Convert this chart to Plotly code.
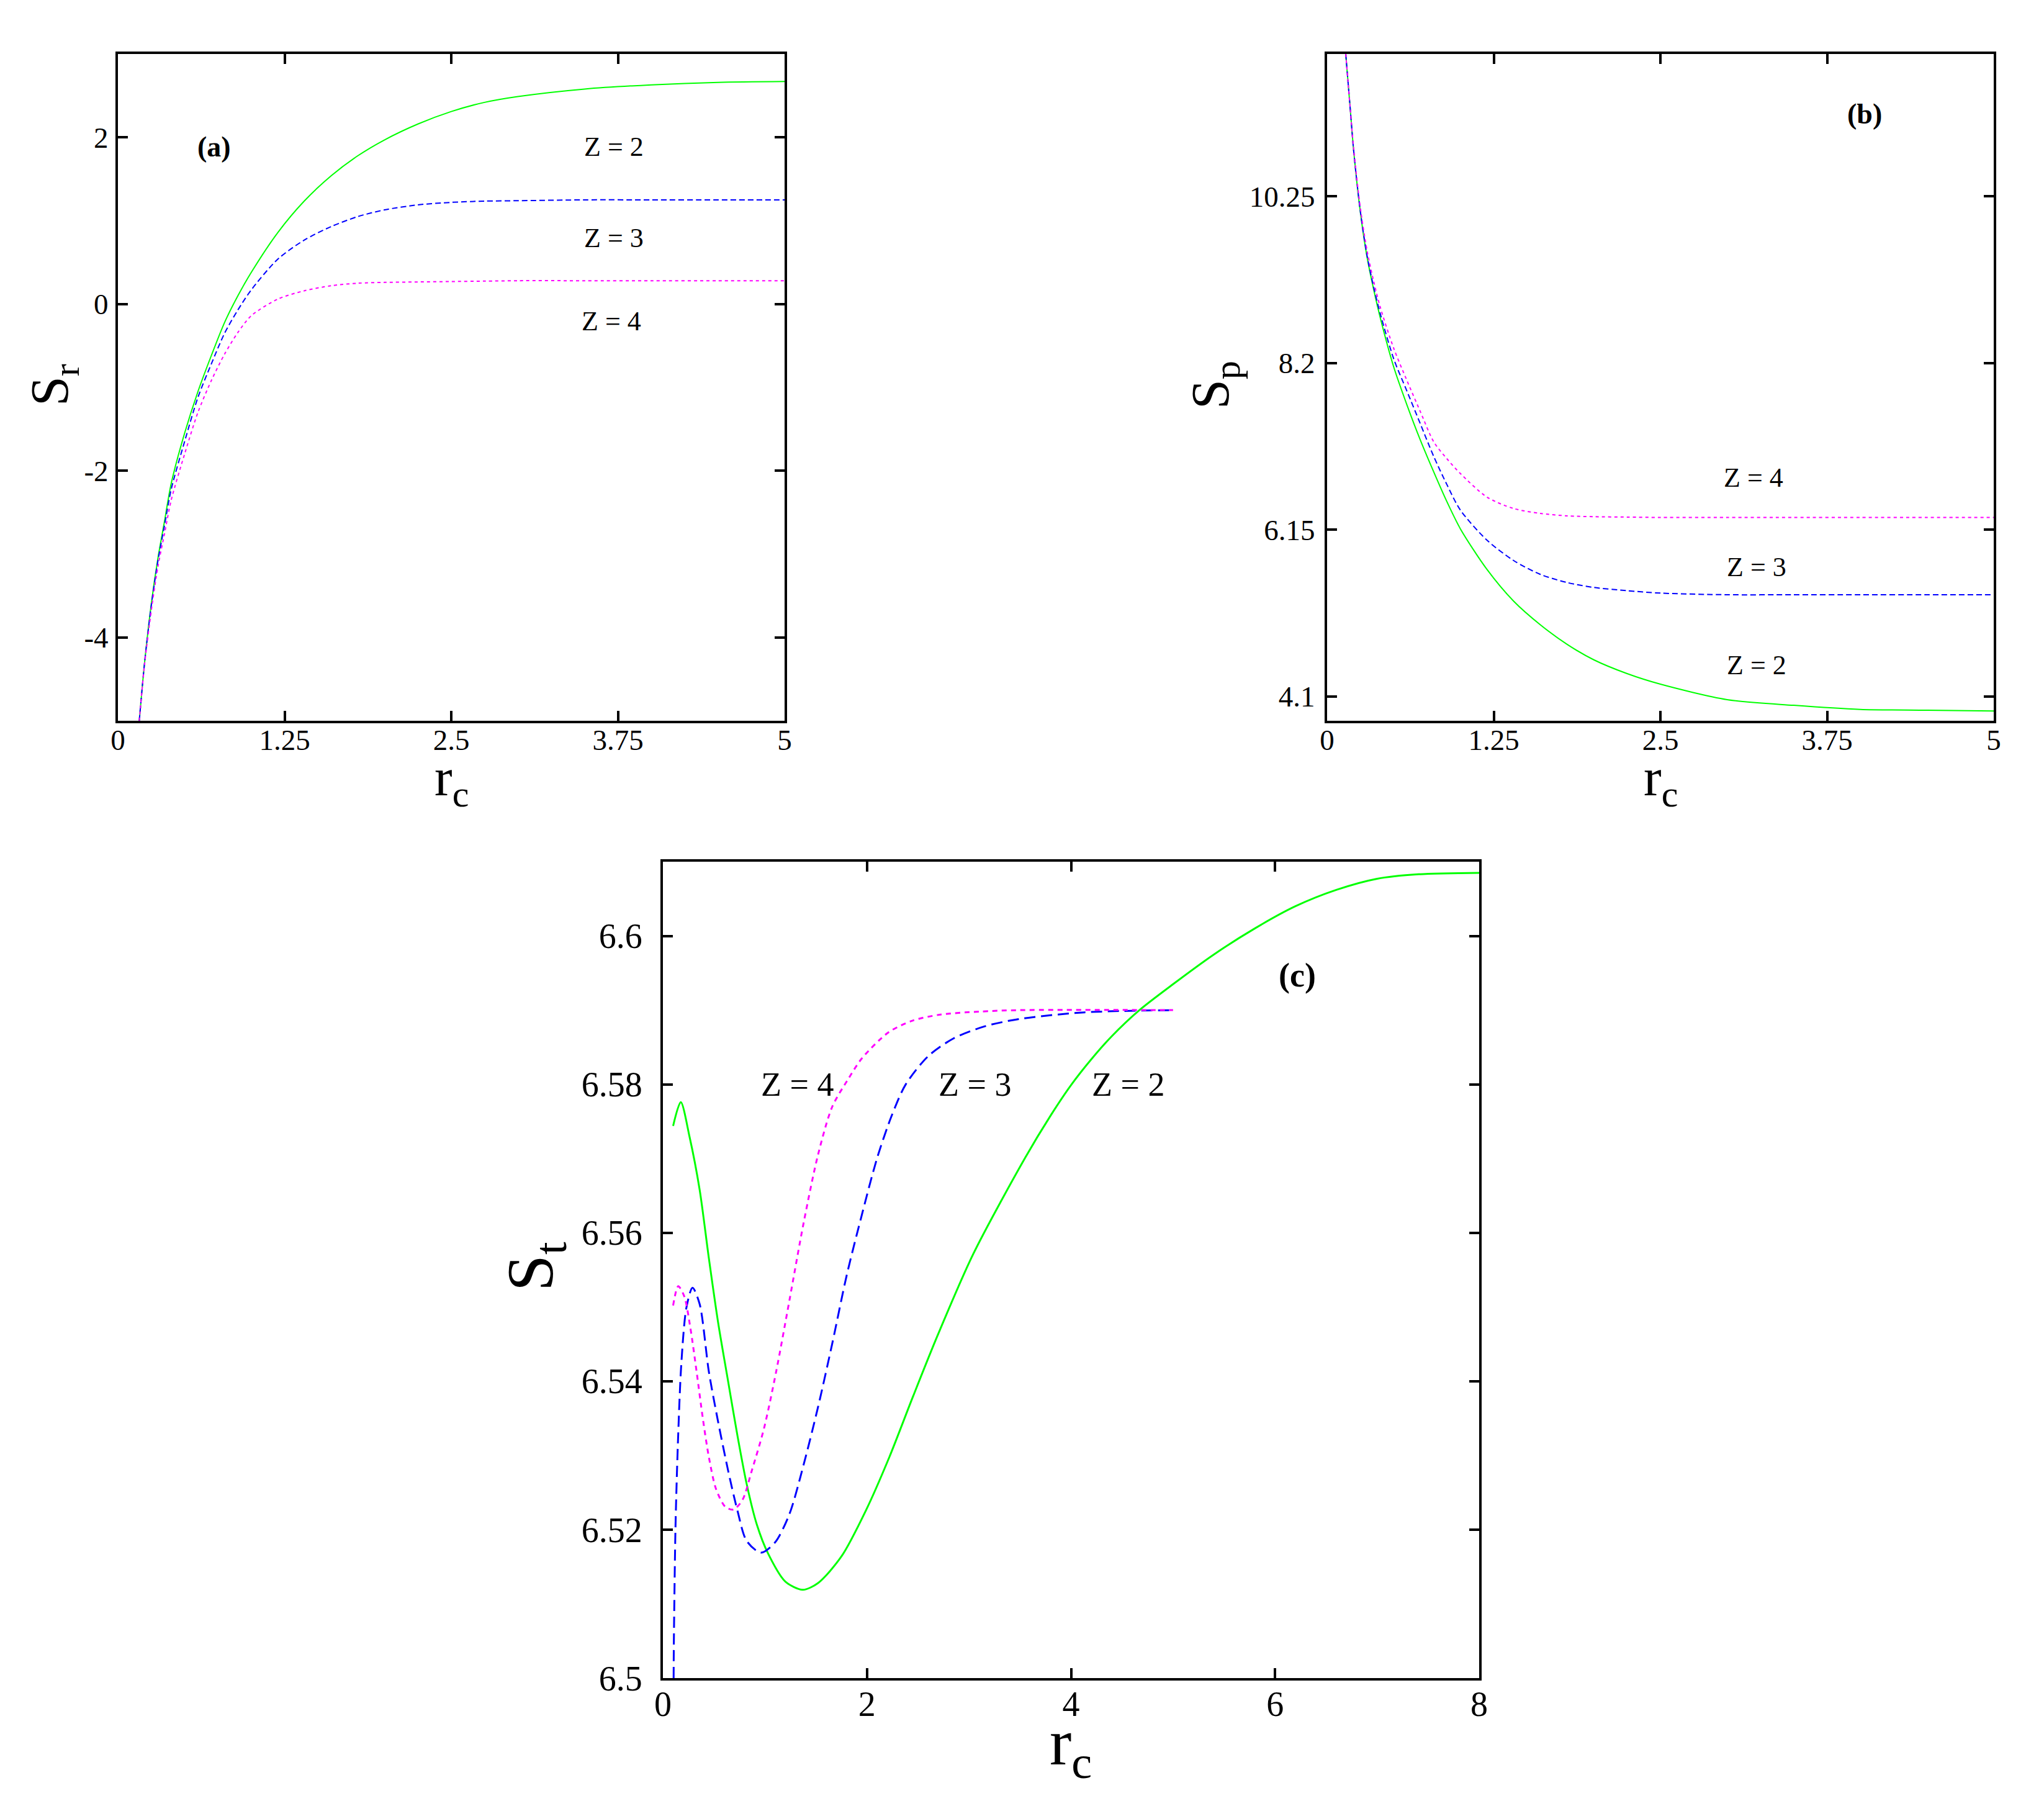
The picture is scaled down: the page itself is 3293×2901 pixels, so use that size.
import plotly.graph_objects as go

# ---------------- data ----------------
# Panel (a): S_r vs r_c
xa = [0.16, 0.2, 0.25, 0.3, 0.35, 0.4, 0.5, 0.6, 0.7, 0.8, 0.9, 1.0, 1.2, 1.4, 1.6, 1.8, 2.0, 2.25, 2.5, 2.75, 3.0, 3.5, 4.0, 4.5, 5.0]
sr_z2 = [-5.0, -4.3, -3.6, -3.05, -2.6, -2.15, -1.55, -1.05, -0.62, -0.22, 0.1, 0.38, 0.86, 1.24, 1.54, 1.78, 1.97, 2.16, 2.31, 2.42, 2.49, 2.58, 2.63, 2.66, 2.67]
sr_z3 = [-5.0, -4.3, -3.62, -3.08, -2.65, -2.22, -1.65, -1.12, -0.72, -0.35, -0.07, 0.17, 0.54, 0.77, 0.93, 1.05, 1.13, 1.19, 1.22, 1.235, 1.24, 1.25, 1.25, 1.25, 1.25]
sr_z4 = [-5.0, -4.32, -3.68, -3.15, -2.75, -2.35, -1.8, -1.3, -0.92, -0.6, -0.34, -0.14, 0.06, 0.16, 0.22, 0.25, 0.26, 0.265, 0.27, 0.275, 0.28, 0.28, 0.28, 0.28, 0.28]

# Panel (b): S_p vs r_c
xb = [0.14, 0.17, 0.2, 0.25, 0.3, 0.35, 0.4, 0.5, 0.6, 0.7, 0.8, 0.9, 1.0, 1.2, 1.4, 1.6, 1.8, 2.0, 2.25, 2.5, 3.0, 3.5, 4.0, 4.5, 5.0]
sp_z2 = [12.0, 11.4, 10.8, 10.05, 9.5, 9.1, 8.75, 8.15, 7.68, 7.25, 6.86, 6.49, 6.16, 5.66, 5.27, 4.98, 4.74, 4.55, 4.38, 4.25, 4.06, 3.99, 3.94, 3.93, 3.92]
sp_z3 = [12.0, 11.4, 10.8, 10.06, 9.52, 9.13, 8.8, 8.25, 7.85, 7.45, 7.05, 6.7, 6.39, 6.02, 5.77, 5.6, 5.5, 5.44, 5.40, 5.37, 5.35, 5.35, 5.35, 5.35, 5.35]
sp_z4 = [12.0, 11.4, 10.82, 10.1, 9.58, 9.2, 8.88, 8.38, 7.98, 7.6, 7.23, 7.02, 6.84, 6.55, 6.41, 6.35, 6.32, 6.31, 6.305, 6.30, 6.30, 6.30, 6.30, 6.30, 6.30]

# Panel (c): S_t vs r_c
xc_z2 = [0.10, 0.175, 0.26, 0.36, 0.45, 0.54, 0.64, 0.73, 0.82, 0.92, 1.03, 1.20, 1.37, 1.52, 1.75, 1.99, 2.22, 2.45, 2.69, 3.04, 3.55, 3.8, 4.0, 4.2, 4.4, 4.67, 5.0, 5.4, 5.8, 6.2, 6.6, 7.0, 7.4, 8.0]
st_z2 = [6.5744, 6.5776, 6.5730, 6.5658, 6.5566, 6.5480, 6.5399, 6.5327, 6.5262, 6.5207, 6.5168, 6.5130, 6.5119, 6.5128, 6.5164, 6.5226, 6.5298, 6.5379, 6.5461, 6.5571, 6.5701, 6.5758, 6.5799, 6.5834, 6.5865, 6.5900, 6.5935, 6.5975, 6.6010, 6.6040, 6.6062, 6.6077, 6.6083, 6.6085]
xc_z3 = [0.105, 0.107, 0.123, 0.147, 0.18, 0.23, 0.29, 0.36, 0.45, 0.54, 0.64, 0.73, 0.82, 0.96, 1.10, 1.24, 1.38, 1.52, 1.66, 1.80, 1.94, 2.10, 2.24, 2.38, 2.6, 2.85, 3.15, 3.49, 4.13, 5.0]
st_z3 = [6.5, 6.5045, 6.5202, 6.5317, 6.5423, 6.5499, 6.5526, 6.5504, 6.5413, 6.5346, 6.5279, 6.5226, 6.5185, 6.5169, 6.5183, 6.5221, 6.5288, 6.5365, 6.5451, 6.5542, 6.5619, 6.5701, 6.5757, 6.5800, 6.5838, 6.5862, 6.5878, 6.5888, 6.5897, 6.5900]
xc_z4 = [0.10, 0.15, 0.21, 0.27, 0.33, 0.39, 0.45, 0.52, 0.61, 0.69, 0.78, 0.87, 0.99, 1.11, 1.24, 1.38, 1.52, 1.66, 1.82, 1.95, 2.21, 2.45, 2.72, 3.1, 3.49, 5.0]
st_z4 = [6.5502, 6.5528, 6.5514, 6.5471, 6.5413, 6.5351, 6.5298, 6.5255, 6.5231, 6.5227, 6.5240, 6.5279, 6.5336, 6.5413, 6.5509, 6.5614, 6.5705, 6.5770, 6.5808, 6.5835, 6.5870, 6.5886, 6.5894, 6.5898, 6.5900, 6.5900]

ticks_a_x = [0, 1.25, 2.5, 3.75, 5]
ticks_a_y = [-4, -2, 0, 2]
ticks_b_y = [4.1, 6.15, 8.2, 10.25]
ticks_c_x = [0, 2, 4, 6, 8]
ticks_c_y = [6.5, 6.52, 6.54, 6.56, 6.58, 6.6]
ticks_c_y_text = ["6.5", "6.52", "6.54", "6.56", "6.58", "6.6"]

GREEN, BLUE, MAGENTA = "#00ff00", "#0000ff", "#ff00ff"
FONT = "Liberation Serif"
PAGE_W, PAGE_H = 3293, 2901
OFF = 8  # default body margin of the html page
W, H = PAGE_W - 2 * OFF, PAGE_H - 2 * OFF

fig = go.Figure()

def add(x, y, color, dash, width, xa_, ya_, shape="linear"):
    fig.add_trace(go.Scatter(x=x, y=y, mode="lines", xaxis=xa_, yaxis=ya_,
                             line=dict(color=color, width=width, dash=dash, shape=shape,
                                       smoothing=0.8 if shape == "spline" else None),
                             showlegend=False, hoverinfo="skip"))

# panel a
add(xa, sr_z2, GREEN, "solid", 2, "x", "y", "spline")
add(xa, sr_z3, BLUE, "9px,5px", 2, "x", "y", "spline")
add(xa, sr_z4, MAGENTA, "5px,5px", 2, "x", "y", "spline")
# panel b
add(xb, sp_z2, GREEN, "solid", 2, "x2", "y2", "spline")
add(xb, sp_z3, BLUE, "9px,5px", 2, "x2", "y2", "spline")
add(xb, sp_z4, MAGENTA, "5px,5px", 2, "x2", "y2", "spline")
# panel c
add(xc_z2, st_z2, GREEN, "solid", 3, "x3", "y3", "spline")
add(xc_z3, st_z3, BLUE, "18px,9px", 3, "x3", "y3", "spline")
add(xc_z4, st_z4, MAGENTA, "8px,7px", 3, "x3", "y3", "spline")

# page pixel -> paper fraction
def fx(px):
    return (px - OFF) / W

def fy(py):
    return 1 - (py - OFF) / H

def dom_x(a, b):
    return [fx(a), fx(b)]

def dom_y(top, bottom):
    return [fy(bottom), fy(top)]

axis_common = dict(showline=True, linecolor="black", linewidth=4, mirror="ticks",
                   ticks="inside", ticklen=16, tickwidth=4, tickcolor="black",
                   showgrid=False, zeroline=False, fixedrange=True, automargin=False)

fs_ab = 47
fs_c = 56

fig.update_layout(
    width=W, height=H, margin=dict(l=0, r=0, t=0, b=0, pad=0, autoexpand=False),
    plot_bgcolor="white", paper_bgcolor="white",
    font=dict(family=FONT, color="black"),
    xaxis=dict(domain=dom_x(190, 1264), anchor="y", range=[0, 5],
               tickvals=ticks_a_x, ticktext=["0", "1.25", "2.5", "3.75", "5"],
               tickfont=dict(size=fs_ab), ticklabelstandoff=-13, **axis_common),
    yaxis=dict(domain=dom_y(87, 1161), anchor="x", range=[-5, 3],
               tickvals=ticks_a_y, ticktext=["-4", "-2", "0", "2"],
               tickfont=dict(size=fs_ab), ticklabelstandoff=2, **axis_common),
    xaxis2=dict(domain=dom_x(2138, 3212), anchor="y2", range=[0, 5],
                tickvals=ticks_a_x, ticktext=["0", "1.25", "2.5", "3.75", "5"],
                tickfont=dict(size=fs_ab), ticklabelstandoff=-13, **axis_common),
    yaxis2=dict(domain=dom_y(87, 1161), anchor="x2", range=[3.8, 12.0],
                tickvals=ticks_b_y, ticktext=["4.1", "6.15", "8.2", "10.25"],
                tickfont=dict(size=fs_ab), ticklabelstandoff=6, **axis_common),
    xaxis3=dict(domain=dom_x(1068, 2383), anchor="y3", range=[0, 8],
                tickvals=ticks_c_x, ticktext=[str(v) for v in ticks_c_x],
                tickfont=dict(size=fs_c), ticklabelstandoff=-10, **axis_common),
    yaxis3=dict(domain=dom_y(1388, 2703), anchor="x3", range=[6.5, 6.61],
                tickvals=ticks_c_y, ticktext=ticks_c_y_text,
                tickfont=dict(size=fs_c), ticklabelstandoff=18, **axis_common),
)

ann = []

def label(text, x, y, xref, yref, size, bold=False):
    t = f"<b>{text}</b>" if bold else text
    ann.append(dict(text=t, x=x, y=y, xref=xref, yref=yref, showarrow=False,
                    xanchor="center", yanchor="middle",
                    font=dict(family=FONT, size=size, color="black")))

# panel labels and curve labels
label("(a)", 0.72, 1.89, "x", "y", 46, bold=True)
label("Z = 2", 3.72, 1.89, "x", "y", 44)
label("Z = 3", 3.72, 0.79, "x", "y", 44)
label("Z = 4", 3.70, -0.21, "x", "y", 44)

label("(b)", 4.03, 11.26, "x2", "y2", 46, bold=True)
label("Z = 4", 3.20, 6.79, "x2", "y2", 44)
label("Z = 3", 3.22, 5.69, "x2", "y2", 44)
label("Z = 2", 3.22, 4.48, "x2", "y2", 44)

label("(c)", 6.22, 6.5947, "x3", "y3", 54, bold=True)
label("Z = 4", 1.32, 6.5800, "x3", "y3", 54)
label("Z = 3", 3.06, 6.5800, "x3", "y3", 54)
label("Z = 2", 4.56, 6.5800, "x3", "y3", 54)

# axis titles (page pixel positions)
def xtitle(text, xpx, ypx, size):
    ann.append(dict(text=text, x=fx(xpx), y=fy(ypx), xref="paper", yref="paper",
                    showarrow=False, xanchor="center", yanchor="middle",
                    font=dict(family=FONT, size=size, color="black")))

def ytitle(text, xpx, ypx, size):
    ann.append(dict(text=text, x=fx(xpx), y=fy(ypx), xref="paper", yref="paper",
                    showarrow=False, xanchor="center", yanchor="middle", textangle=-90,
                    font=dict(family=FONT, size=size, color="black")))

xtitle("r<sub>c</sub>", 727, 1258, 86)
xtitle("r<sub>c</sub>", 2675, 1258, 86)
xtitle("r<sub>c</sub>", 1725, 2814, 106)
ytitle("S<sub>r</sub>", 86, 620, 86)
ytitle("S<sub>p</sub>", 1956, 620, 86)
ytitle("S<sub>t</sub>", 862, 2040, 106)

fig.update_layout(annotations=ann)

fig.write_html("out.html")
